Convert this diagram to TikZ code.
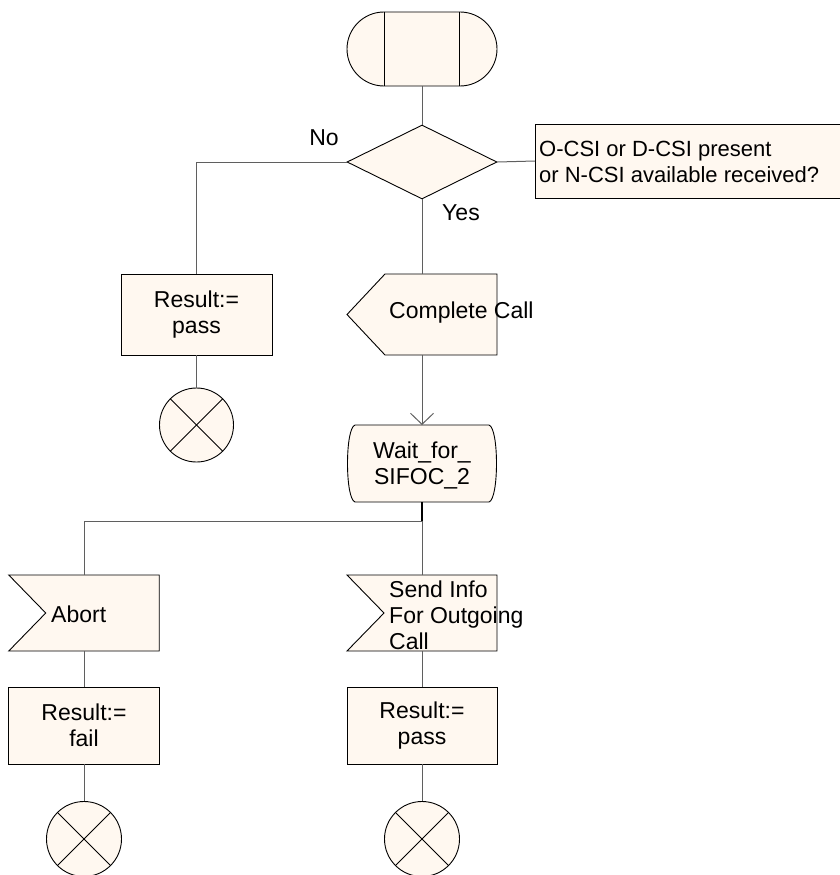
\documentclass[tikz,border=0pt]{standalone}
\usepackage{fontspec}
\setmainfont{Liberation Sans}
\usetikzlibrary{shapes.geometric,shapes.misc,arrows.meta,calc}
\definecolor{sdlfill}{RGB}{255,248,240}
\definecolor{conncol}{RGB}{95,95,95}
\begin{document}
\begin{tikzpicture}[x=1pt,y=-1pt,
  font=\fontsize{23}{26}\selectfont,
  shp/.style={draw=black, fill=sdlfill, line width=0.9pt},
  thinline/.style={draw=black, line width=0.8pt},
  frame/.style={minimum width=150pt, minimum height=77pt, inner sep=0pt, outer sep=0pt},
  conn/.style={draw=conncol, line width=1pt},
  txt/.style={inner sep=0pt}]
\useasboundingbox (0,0) rectangle (839,875);

% start symbol
\node[shp, rounded rectangle, minimum width=150pt, minimum height=74pt, inner sep=0pt] (start) at (422,49) {};
\draw[thinline] ($(start.north)+(-38,0)$) -- ($(start.south)+(-38,0)$);
\draw[thinline] ($(start.north)+(37,0)$) -- ($(start.south)+(37,0)$);

% decision
\node[shp, diamond, minimum width=150pt, minimum height=74pt, inner sep=0pt] (dec) at (422,162) {};
\draw[conn] (start.south) -- (dec.north);

% comment
\node[shp, minimum width=320pt, minimum height=74pt, inner sep=0pt, anchor=west] (cmt) at (535,161) {};
\node[txt, anchor=west, align=left, font=\fontsize{22}{25.5}\selectfont] (cmtT) at (539,162) {O-CSI or D-CSI present\\or N-CSI available received?};
\draw[conn] (dec.east) -- (cmt.west);

\node[txt] (no) at (324,138) {No};
\node[txt] (yes) at (461,213) {Yes};

% left branch
\node[shp, minimum width=151pt, minimum height=81pt, inner sep=0pt, align=center] (r1) at (196.5,314.5) {Result:=\\pass};
\draw[conn] (dec.west) -| (r1.north);
\node[shp, circle, minimum size=74pt, inner sep=0pt] (e1) at (196.5,425) {};
\draw[thinline] (e1.north west) -- (e1.south east);
\draw[thinline] (e1.north east) -- (e1.south west);
\draw[conn] (r1.south) -- (e1.north);

% complete call
\node[frame, minimum height=81pt] (cc) at (422,314.5) {};
\draw[shp] (cc.west) -- ($(cc.north west)+(38,0)$) -- (cc.north east) -- (cc.south east) -- ($(cc.south west)+(38,0)$) -- cycle;
\node[txt, anchor=base west] (ccT) at (389,318) {Complete Call};
\draw[conn] (dec.south) -- (cc.north);

% state
\node[frame, minimum height=77pt] (wait) at (422,463.5) {};
\draw[shp] ($(wait.north west)+(8,0)$) -- ($(wait.north east)+(-8,0)$)
  .. controls ($(wait.north east)+(2,3)$) and ($(wait.south east)+(2,-3)$) .. ($(wait.south east)+(-8,0)$)
  -- ($(wait.south west)+(8,0)$)
  .. controls ($(wait.south west)+(-2,-3)$) and ($(wait.north west)+(-2,3)$) .. cycle;
\node[txt, align=center] (waitT) at (422,465) {Wait\_for\_\\SIFOC\_2};
\draw[conn, -{Straight Barb[length=11pt,width=23pt]}] (cc.south) -- (wait.north);

% branch
\coordinate (br) at (422,521);
\draw[draw=black, line width=1.2pt] (wait.south) -- (br);

% abort
\node[frame, minimum width=150.5pt, minimum height=76pt] (ab) at (84,613) {};
\draw[shp] (ab.north west) -- (ab.north east) -- (ab.south east) -- (ab.south west) -- ($(ab.west)+(37,0)$) -- cycle;
\node[txt, anchor=base west] (abT) at (51,622) {Abort};

% send info
\node[frame, minimum height=76pt] (si) at (422,613) {};
\draw[shp] (si.north west) -- (si.north east) -- (si.south east) -- (si.south west) -- ($(si.west)+(37,0)$) -- cycle;
\node[txt, anchor=west, align=left] (siT) at (389,615.5) {Send Info\\For Outgoing\\Call};

\draw[conn] (br) -| (ab.north);
\draw[conn] (br) -- (si.north);

% results
\node[shp, minimum width=150.5pt, minimum height=77pt, inner sep=0pt, align=center] (r2) at (84,725.5) {Result:=\\fail};
\node[shp, minimum width=150pt, minimum height=77pt, inner sep=0pt, align=center] (r3) at (422,725.5) {Result:=\\pass};
\draw[conn] (ab.south) -- (r2.north);
\draw[conn] (si.south) -- (r3.north);

% stops
\node[shp, circle, minimum size=75pt, inner sep=0pt] (e2) at (84,839) {};
\draw[thinline] (e2.north west) -- (e2.south east);
\draw[thinline] (e2.north east) -- (e2.south west);
\node[shp, circle, minimum size=75pt, inner sep=0pt] (e3) at (422,839) {};
\draw[thinline] (e3.north west) -- (e3.south east);
\draw[thinline] (e3.north east) -- (e3.south west);
\draw[conn] (r2.south) -- (e2.north);
\draw[conn] (r3.south) -- (e3.north);
\end{tikzpicture}
\end{document}
